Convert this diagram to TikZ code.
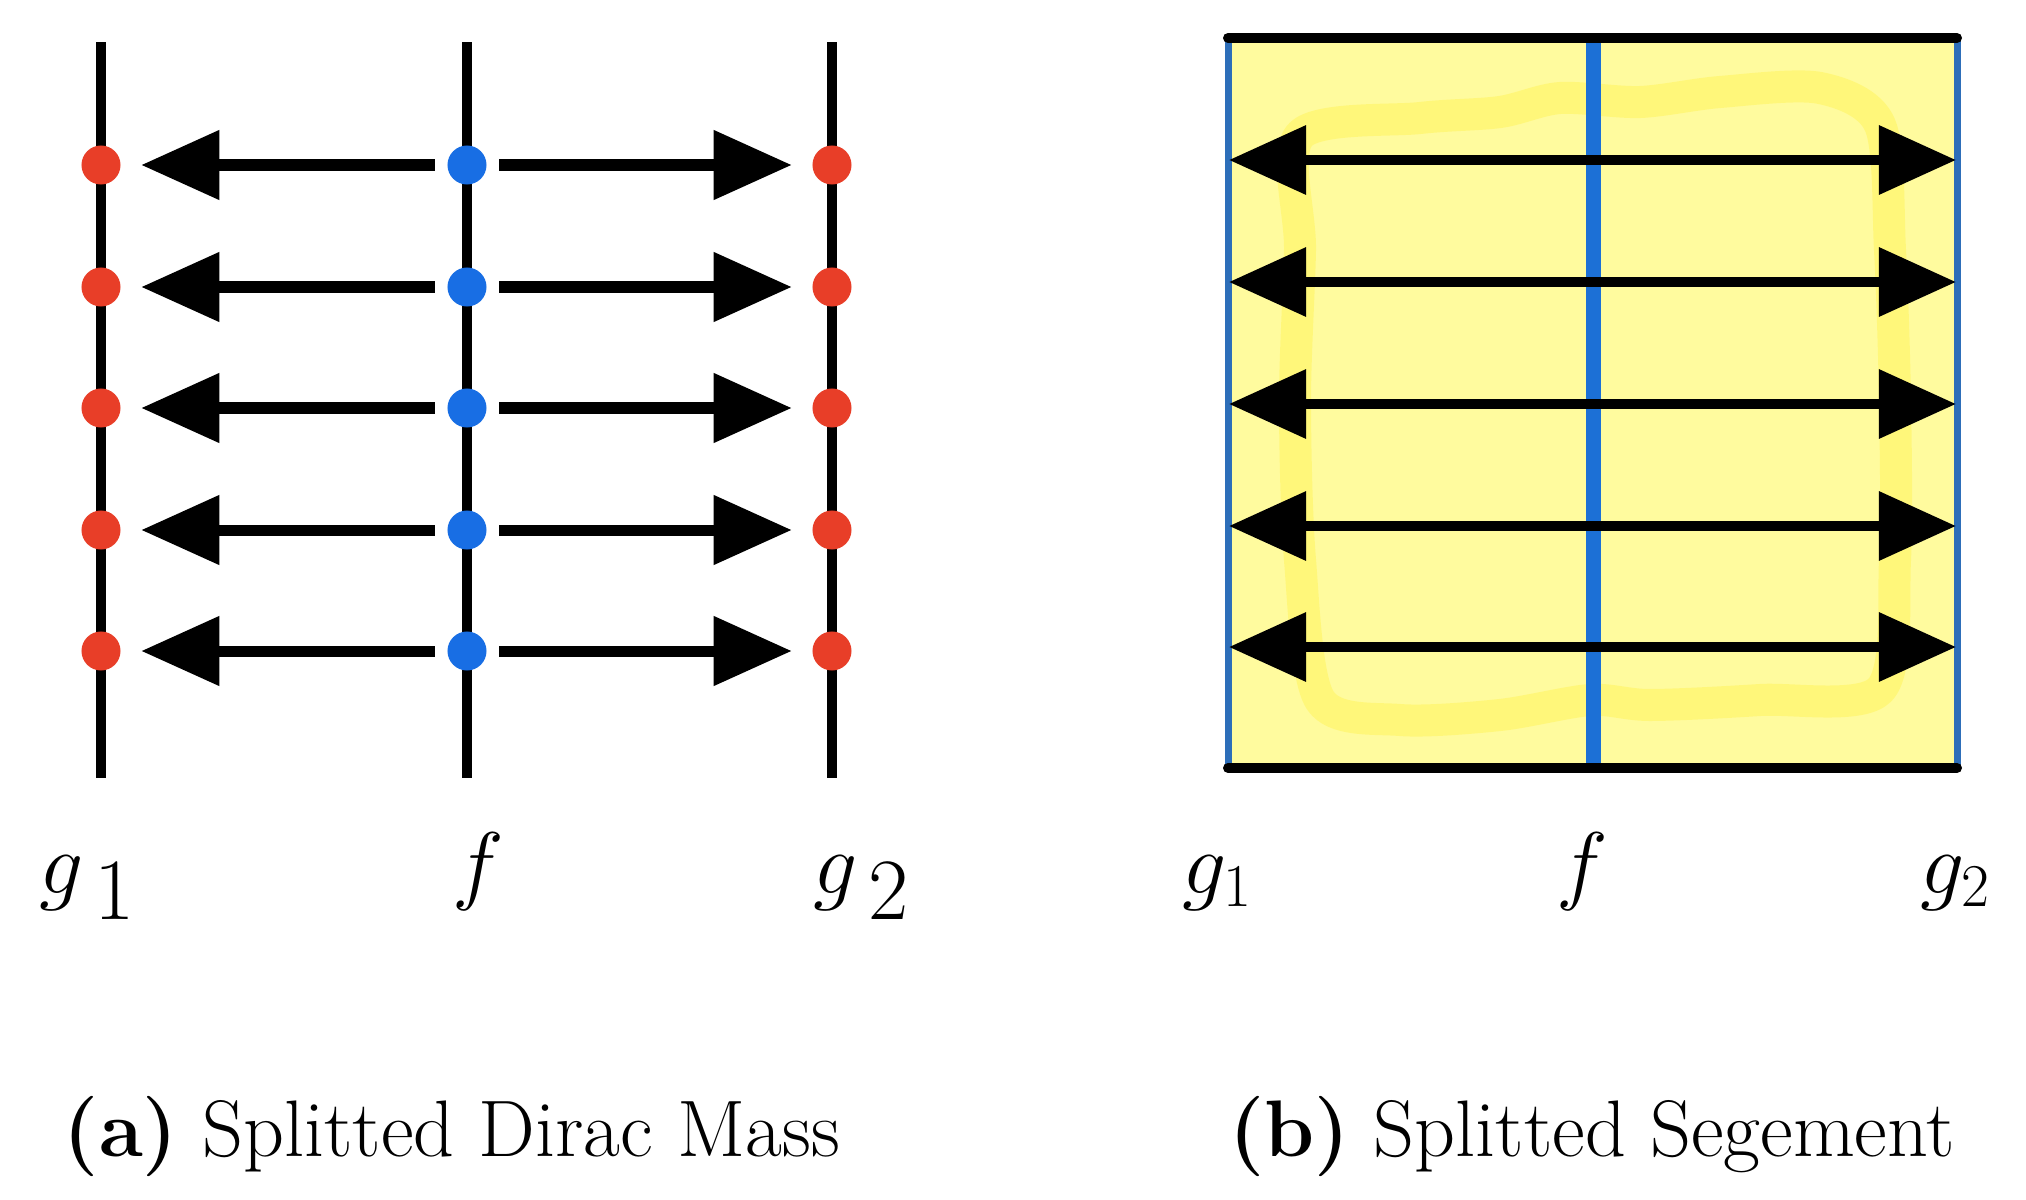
\documentclass[tikz,border=0pt]{standalone}
\usetikzlibrary{arrows.meta}
\definecolor{dotred}{RGB}{232,62,40}
\definecolor{dotblue}{RGB}{24,110,228}
\definecolor{segblue}{RGB}{28,112,214}
\definecolor{edgeblue}{RGB}{45,110,185}
\definecolor{paleyellow}{RGB}{255,251,158}
\definecolor{blotchyellow}{RGB}{255,243,70}
\begin{document}
\begin{tikzpicture}[x=0.01cm,y=-0.01cm,
  axisline/.style={line width=0.1cm, black},
  reddot/.style={circle, fill=dotred, minimum size=0.39cm, inner sep=0pt},
  bluedot/.style={circle, fill=dotblue, minimum size=0.39cm, inner sep=0pt},
  harrow/.style={line width=0.11cm, -{Triangle[length=0.78cm,width=0.67cm]}, shorten <=0.12cm, shorten >=0.2cm},
  darrow/.style={line width=0.1cm, {Triangle[length=0.77cm,width=0.67cm]}-{Triangle[length=0.77cm,width=0.67cm]}},
  biglabel/.style={font=\fontsize{52}{60}\selectfont, anchor=base, inner sep=0pt},
  smalllabel/.style={font=\fontsize{27}{30}\selectfont, anchor=base, inner sep=0pt},
  captionlabel/.style={font=\fontsize{22.8}{27}\selectfont, anchor=base, inner sep=0pt}]

\fill[white] (0,0) rectangle (2026,1200);
\useasboundingbox (0,0) rectangle (2026,1200);

% ---------- (a) Splitted Dirac Mass ----------
\foreach \n/\x in {L/101, M/467, R/832} {
  \coordinate (\n top) at (\x,42);
  \coordinate (\n bot) at (\x,778);
  \draw[axisline] (\n top) -- (\n bot);
}
\foreach \i/\y in {1/165,2/287,3/408,4/530,5/651} {
  \node[reddot] (L\i) at (101,\y) {};
  \node[bluedot] (M\i) at (467,\y) {};
  \node[reddot] (R\i) at (832,\y) {};
  \draw[harrow] (M\i) -- (L\i);
  \draw[harrow] (M\i) -- (R\i);
}
\node[biglabel] (g1a) at (88,893) {$g_{\,1}$};
\node[biglabel] (fa) at (478,893) {$f$};
\node[biglabel] (g2a) at (862,893) {$g_{\,2}$};

% ---------- (b) Splitted Segement ----------
\coordinate (TL) at (1228,38);
\coordinate (TR) at (1957,38);
\coordinate (BL) at (1228,768);
\coordinate (BR) at (1957,768);
\coordinate (MT) at (1593,38);
\coordinate (MB) at (1593,768);
\fill[paleyellow] (TL) rectangle (BR);
\draw[blotchyellow, opacity=0.4, line width=0.32cm, line join=round]
  plot[smooth cycle] coordinates {(1300,135) (1420,118) (1500,112) (1560,98) (1640,102)
  (1720,92) (1820,88) (1880,125) (1890,250) (1895,400) (1895,560) (1880,690)
  (1760,700) (1650,705) (1590,700) (1500,715) (1400,720) (1320,700) (1300,560)
  (1295,400) (1300,250)};
\draw[edgeblue, line width=0.07cm] (TL) -- (BL);
\draw[edgeblue, line width=0.07cm] (TR) -- (BR);
\draw[segblue, line width=0.15cm] (MT) -- (MB);
\draw[black, line width=0.1cm, line cap=round] (TL) -- (TR);
\draw[black, line width=0.1cm, line cap=round] (BL) -- (BR);
\foreach \i/\y in {1/160,2/282,3/404,4/526,5/647} {
  \coordinate (A\i) at (1229,\y);
  \coordinate (B\i) at (1956,\y);
  \draw[darrow] (A\i) -- (B\i);
}
\node[smalllabel] (g1b) at (1218,893) {$g_1$};
\node[smalllabel] (fb) at (1582,893) {$f$};
\node[smalllabel] (g2b) at (1956,893) {$g_2$};

% ---------- captions ----------
\node[captionlabel] (capa) at (452,1156) {\textbf{(a)} Splitted Dirac Mass};
\node[captionlabel] (capb) at (1592,1156) {\textbf{(b)} Splitted Segement};
\end{tikzpicture}
\end{document}
